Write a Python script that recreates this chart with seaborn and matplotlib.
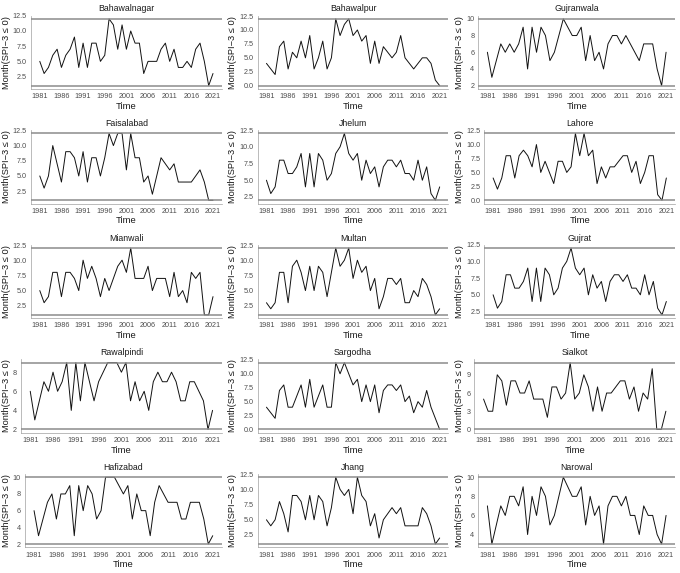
import matplotlib
matplotlib.use('Agg')
import matplotlib.pyplot as plt
import seaborn as sns
import pandas as pd
import numpy as np

# Years of record
years = list(range(1981, 2022))

# Months with SPI-3 <= 0, per station
bahawalnagar = [5, 3, 4, 6, 7, 4, 6, 7, 9, 4, 8, 4, 8, 8, 5, 6, 12, 11, 7, 11, 7,
                10, 8, 8, 3, 5, 5, 5, 7, 8, 5, 7, 4, 4, 5, 4, 7, 8, 5, 1, 3]
bahawalpur = [4, 3, 2, 7, 8, 3, 6, 5, 8, 5, 9, 3, 5, 8, 3, 5, 12, 9, 11, 12, 9,
              10, 8, 9, 4, 8, 4, 7, 6, 5, 6, 9, 5, 4, 3, 4, 5, 5, 4, 1, 0]
gujranwala = [6, 3, 5, 7, 6, 7, 6, 7, 9, 4, 9, 6, 9, 8, 5, 6, 8, 10, 9, 8, 8,
              9, 5, 8, 5, 6, 4, 7, 8, 8, 7, 8, 7, 6, 5, 7, 7, 7, 4, 2, 6]
faisalabad = [5, 3, 5, 10, 7, 4, 9, 9, 8, 5, 9, 4, 8, 8, 5, 8, 12, 10, 12, 12, 6,
              12, 8, 8, 4, 5, 2, 5, 8, 7, 6, 7, 4, 4, 4, 4, 5, 6, 4, 1, 1]
jhelum = [5, 3, 4, 8, 8, 6, 6, 7, 9, 4, 9, 4, 9, 8, 5, 6, 9, 10, 12, 9, 8,
          9, 5, 8, 6, 7, 4, 7, 8, 8, 7, 8, 6, 6, 5, 8, 5, 7, 3, 2, 4]
lahore = [4, 2, 4, 8, 8, 4, 8, 9, 8, 6, 10, 5, 7, 5, 3, 7, 7, 5, 6, 12, 8,
          12, 8, 9, 3, 6, 4, 6, 6, 7, 8, 8, 5, 7, 3, 5, 8, 8, 1, 0, 4]
mianwali = [5, 3, 4, 8, 8, 4, 8, 8, 7, 5, 10, 7, 9, 7, 4, 7, 5, 7, 9, 10, 8,
            12, 7, 7, 7, 9, 5, 7, 7, 7, 4, 8, 4, 5, 3, 8, 7, 8, 1, 1, 4]
multan = [3, 2, 3, 8, 8, 3, 9, 10, 8, 5, 9, 5, 9, 8, 4, 8, 12, 9, 10, 12, 7,
          10, 8, 9, 5, 7, 2, 4, 7, 7, 6, 7, 3, 3, 5, 4, 7, 6, 4, 1, 2]
gujrat = [5, 3, 4, 8, 8, 6, 6, 7, 9, 4, 9, 4, 9, 8, 5, 6, 9, 10, 12, 9, 8,
          9, 5, 8, 6, 7, 4, 7, 8, 8, 7, 8, 6, 6, 5, 8, 5, 7, 3, 2, 4]
rawalpindi = [6, 3, 5, 7, 6, 8, 6, 7, 9, 4, 9, 5, 9, 7, 5, 7, 8, 9, 9, 9, 8,
              9, 5, 7, 5, 6, 4, 7, 8, 7, 7, 8, 7, 5, 5, 7, 7, 6, 5, 2, 4]
sargodha = [4, 3, 2, 7, 8, 4, 4, 6, 8, 4, 9, 4, 6, 8, 4, 4, 12, 10, 12, 10, 8,
            9, 5, 8, 5, 8, 3, 7, 8, 8, 7, 8, 5, 6, 3, 5, 4, 7, 4, 2, 0]
sialkot = [5, 3, 3, 9, 8, 4, 8, 8, 6, 6, 8, 5, 5, 5, 2, 7, 7, 5, 6, 11, 5,
           6, 9, 7, 3, 7, 3, 6, 6, 7, 8, 8, 5, 7, 3, 6, 5, 10, 0, 0, 3]
hafizabad = [6, 3, 5, 7, 8, 5, 8, 8, 9, 3, 9, 6, 9, 8, 5, 6, 10, 10, 10, 9, 8,
             9, 5, 8, 6, 6, 3, 7, 9, 8, 7, 7, 7, 5, 5, 7, 7, 7, 5, 2, 3]
jhang = [5, 4, 5, 8, 6, 3, 9, 9, 8, 5, 9, 5, 9, 8, 4, 7, 12, 10, 9, 10, 6,
         12, 9, 8, 4, 6, 2, 5, 6, 7, 6, 7, 4, 4, 4, 4, 7, 6, 4, 1, 2]
narowal = [7, 3, 5, 7, 6, 8, 8, 7, 9, 4, 8, 6, 9, 8, 5, 6, 8, 10, 9, 8, 8,
           9, 5, 8, 6, 7, 3, 7, 8, 8, 7, 8, 6, 6, 4, 7, 6, 6, 4, 3, 6]

stations = ['Bahawalnagar', 'Bahawalpur', 'Gujranwala',
            'Faisalabad', 'Jhelum', 'Lahore',
            'Mianwali', 'Multan', 'Gujrat',
            'Rawalpindi', 'Sargodha', 'Sialkot',
            'Hafizabad', 'Jhang', 'Narowal']
series = [bahawalnagar, bahawalpur, gujranwala,
          faisalabad, jhelum, lahore,
          mianwali, multan, gujrat,
          rawalpindi, sargodha, sialkot,
          hafizabad, jhang, narowal]
# y tick spacing used on each panel
y_steps = [2.5, 2.5, 2, 2.5, 2.5, 2.5, 2.5, 2.5, 2.5, 2, 2.5, 3, 2, 2.5, 2]
x_ticks = list(range(1981, 2022, 5))

sns.set_style('white')
plt.rcParams['font.family'] = ['Liberation Sans', 'DejaVu Sans']

W, H = 680, 573
NCOL, NROW = 3, 5
cw, ch = W / NCOL, H / NROW
fig = plt.figure(figsize=(W / 100, H / 100), dpi=100)

ref_grey = '#8c8c8c'
axes = []
for i, (name, vals, step) in enumerate(zip(stations, series, y_steps)):
    ax = fig.add_axes([0, 0, 0.2, 0.1])
    df = pd.DataFrame({'Time': years, 'Month': vals})
    sns.lineplot(data=df, x='Time', y='Month', ax=ax, color='#111111', linewidth=0.7)
    lo, hi = df['Month'].min(), df['Month'].max()
    # reference lines at the series max and min, drawn over the data line
    ax.axhline(hi, color=ref_grey, lw=1.1, zorder=3)
    ax.axhline(lo, color=ref_grey, lw=1.1, zorder=3)
    pad = (hi - lo) * 0.05
    ax.set_ylim(lo - pad, hi + pad)
    ax.set_xlim(years[0] - 2, years[-1] + 2)

    yt = np.arange(np.ceil((lo - pad) / step) * step, hi + pad + 1e-9, step)
    yt = np.round(yt, 6) + 0.0
    ax.set_yticks(yt)
    if step != int(step):
        ax.set_yticklabels([f'{v:.1f}' for v in yt])
    else:
        ax.set_yticklabels([f'{int(v)}' for v in yt])
    ax.set_xticks(x_ticks)

    ax.set_title(name, fontsize=6.3, pad=3, color='#1a1a1a')
    ax.set_xlabel('Time', fontsize=6.8, labelpad=1.2, color='#1a1a1a')
    ax.set_ylabel('Month(SPI\u22123 \u2264 0)', fontsize=6.7, labelpad=1.5, color='#1a1a1a')
    ax.tick_params(axis='both', labelsize=5.2, length=1.8, width=0.5, pad=1.2,
                   color='#7f7f7f', labelcolor='#4d4d4d')
    for s in ['top', 'right']:
        ax.spines[s].set_visible(False)
    for s in ['left', 'bottom']:
        ax.spines[s].set_color('#a0a0a0')
        ax.spines[s].set_linewidth(0.5)
    ax.grid(False)
    axes.append(ax)

# place each panel inside its cell, leaving room for its own tick labels
fig.canvas.draw()
renderer = fig.canvas.get_renderer()
for i, ax in enumerate(axes):
    r, c = divmod(i, NCOL)
    w = max(t.get_window_extent(renderer).width for t in ax.get_yticklabels())
    left = c * cw + 13 + w + 4
    right = (c + 1) * cw - 5
    top = r * ch + 15.5
    bottom = r * ch + 89
    ax.set_position([left / W, 1 - bottom / H, (right - left) / W, (bottom - top) / H])

fig.savefig('out.png', dpi=100)
